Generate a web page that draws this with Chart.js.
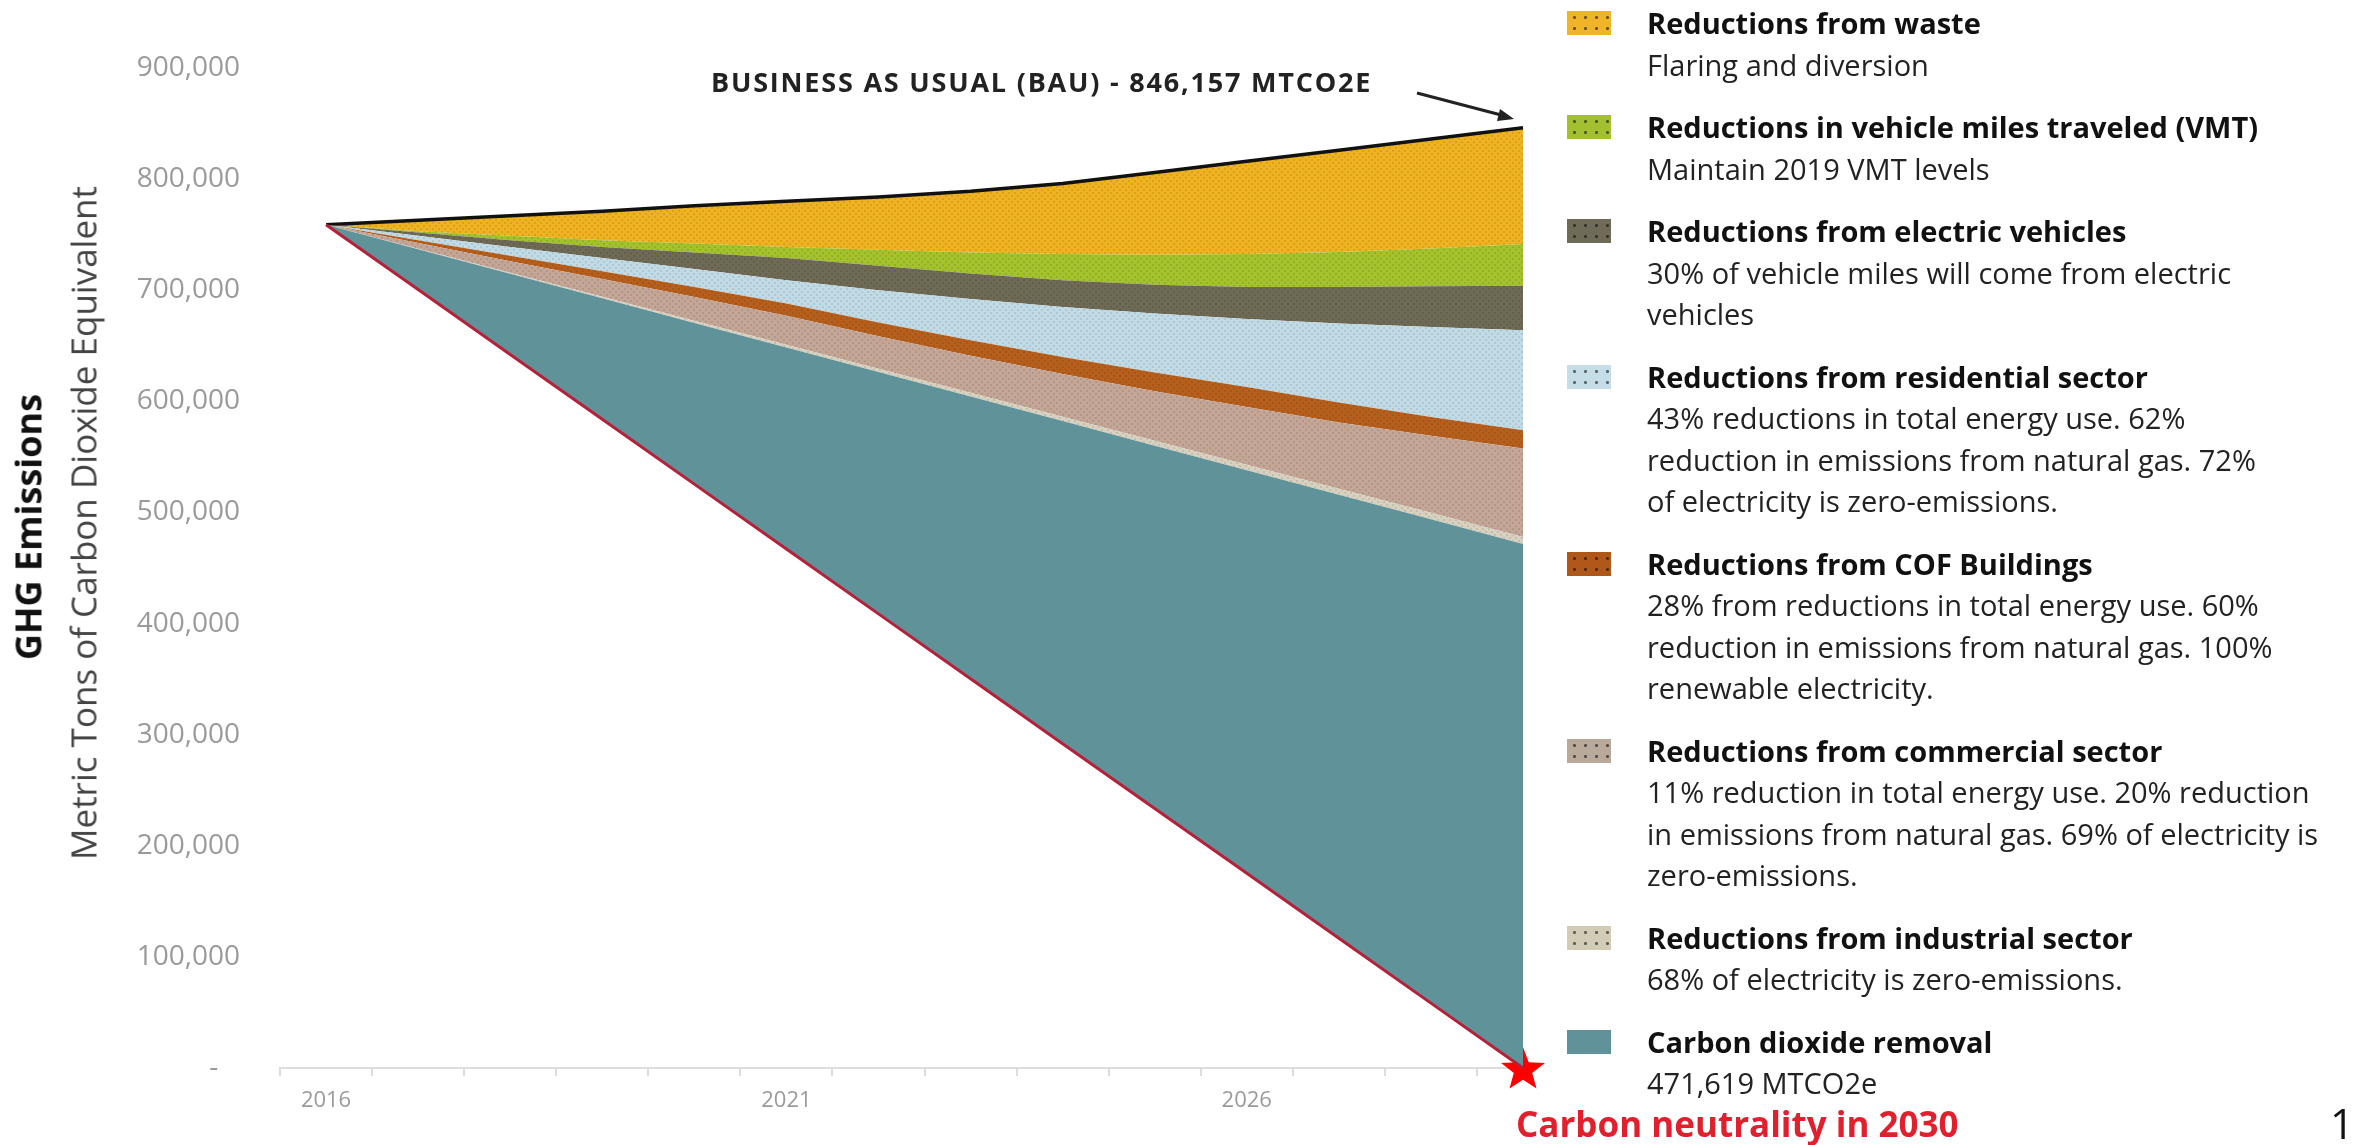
<!DOCTYPE html>
<html>
<head>
<meta charset="utf-8">
<script src="https://cdn.jsdelivr.net/npm/chart.js@4.4.1/dist/chart.umd.min.js"></script>
<style>
  html, body { margin: 0; padding: 0; background: #fff; }
  body { width: 2363px; height: 1145px; position: relative; overflow: hidden; font-family: "Open Sans", sans-serif; }
  #chart { position: absolute; left: 0; top: 0; }
  .rot { position: absolute; white-space: nowrap; transform: translate(-50%, -50%) rotate(-90deg); }
  .note { position: absolute; white-space: nowrap; }
  #legend { position: absolute; left: 1567px; top: 2px; display: flex; flex-direction: column; gap: 21px; }
  .item { position: relative; padding-left: 80px; font-size: 29px; line-height: 41.5px; color: #222; white-space: nowrap; }
  .item b { color: #111; }
  .sw { position: absolute; left: 0; top: 9px; width: 44px; height: 24px;
        background-image: radial-gradient(circle, rgba(0,0,0,0.55) 1.2px, transparent 1.8px);
        background-size: 11px 11px; background-position: 2px 1px; }
  svg { position: absolute; left: 0; top: 0; }
</style>
</head>
<body>
<canvas id="chart" width="2363" height="1145"></canvas>

<div class="rot" style="left:28px; top:527px; font-size:36px; font-weight:700; color:#111;">GHG Emissions</div>
<div class="rot" style="left:83px; top:523px; font-size:35px; color:#444;">Metric Tons of Carbon Dioxide Equivalent</div>

<div class="note" style="left:711px; top:63px; font-size:27px; letter-spacing:1.8px; font-weight:700; color:#222;">BUSINESS AS USUAL (BAU) - 846,157 MTCO2E</div>
<svg width="2363" height="1145">
  <line x1="1417" y1="93" x2="1505" y2="116" stroke="#222" stroke-width="3"/>
  <polygon points="1514,119 1500,109 1497,121" fill="#222"/>
</svg>
<div class="note" style="left:1516px; top:1100px; font-size:35px; font-weight:700; color:#e0202c;">Carbon neutrality in 2030</div>
<div class="note" style="left:2330px; top:1094px; font-size:42px; color:#111;">1</div>

<div id="legend"></div>

<script>
// years on the x axis and the labelled ones
const years = [2016, 2017, 2018, 2019, 2020, 2021, 2022, 2023, 2024, 2025, 2026, 2027, 2028, 2029];
const tickYears = [2016, 2021, 2026];

// red line: remaining net emissions (stack base, not filled)
const netEmissions = [759000, 700600, 642200, 583800, 525500, 467100, 408700, 350300, 291900, 233500, 175200, 116800, 58400, 0];
// wedges stacked on top, bottom to top
const carbonRemoval = [0, 36300, 72600, 108900, 145100, 181400, 217700, 254000, 290300, 326600, 362800, 399100, 435400, 471619];
const industrial = [0, 500, 1000, 1500, 2000, 2500, 3000, 3500, 4000, 4500, 5000, 5500, 6000, 6381];
const commercial = [0, 5100, 10200, 15800, 21400, 26000, 29100, 33200, 38300, 44400, 52000, 59600, 69200, 79500];
const cofBuildings = [0, 2500, 5000, 7000, 9000, 11000, 12500, 14000, 15500, 17000, 18000, 18000, 17000, 16500];
const residential = [0, 4000, 8000, 12000, 16000, 21000, 29000, 37000, 45000, 53000, 61000, 71000, 81000, 90000];
const electricVehicles = [0, 3000, 6000, 10000, 15000, 20000, 22000, 23000, 24000, 26000, 29000, 33000, 36500, 40000];
const vehicleMiles = [0, 1000, 4000, 6000, 8000, 10000, 14500, 19000, 23500, 27000, 29500, 31500, 34000, 37500];
const waste = [0, 10000, 18000, 26000, 34000, 41000, 47500, 55000, 63500, 74000, 83500, 91500, 98500, 104657];

const neutralYear = [2029];
const neutralValue = [0];

// legend texts, top to bottom
const seriesNames = [
  'Reductions from waste',
  'Reductions in vehicle miles traveled (VMT)',
  'Reductions from electric vehicles',
  'Reductions from residential sector',
  'Reductions from COF Buildings',
  'Reductions from commercial sector',
  'Reductions from industrial sector',
  'Carbon dioxide removal'
];
const seriesNotes = [
  ['Flaring and diversion'],
  ['Maintain 2019 VMT levels'],
  ['30% of vehicle miles will come from electric', 'vehicles'],
  ['43% reductions in total energy use. 62%', 'reduction in emissions from natural gas. 72%', 'of electricity is zero-emissions.'],
  ['28% from reductions in total energy use. 60%', 'reduction in emissions from natural gas. 100%', 'renewable electricity.'],
  ['11% reduction in total energy use. 20% reduction', 'in emissions from natural gas. 69% of electricity is', 'zero-emissions.'],
  ['68% of electricity is zero-emissions.'],
  ['471,619 MTCO2e']
];
const seriesColors = ['#efb321', '#a3c22c', '#6e6a56', '#c0dbe6', '#b65f1c', '#c4a697', '#d8d1bf', '#5f9399'];
const swatchColors = ['#f0b429', '#a3c030', '#6f6b58', '#c5dde6', '#b0581a', '#b9a99b', '#d2cbb6', '#5f9399'];

function dotted(color) {
  const c = document.createElement('canvas');
  c.width = 6; c.height = 6;
  const g = c.getContext('2d');
  g.fillStyle = color;
  g.fillRect(0, 0, 6, 6);
  g.fillStyle = 'rgba(0,0,0,0.09)';
  g.fillRect(0, 0, 2, 2);
  g.fillRect(3, 3, 2, 2);
  return g.createPattern(c, 'repeat');
}

function starImage(size, color) {
  const c = document.createElement('canvas');
  c.width = size; c.height = size;
  const g = c.getContext('2d');
  const r = size / 2, r2 = r * 0.42;
  g.beginPath();
  for (let i = 0; i < 10; i++) {
    const a = -Math.PI / 2 + i * Math.PI / 5;
    const rr = i % 2 ? r2 : r;
    g.lineTo(r + rr * Math.cos(a), r + rr * Math.sin(a) + 2);
  }
  g.closePath();
  g.fillStyle = color;
  g.fill();
  return c;
}

const pts = arr => arr.map((v, i) => ({ x: years[i], y: v }));

// stacked wedges, bottom to top (legend is listed top to bottom)
const wedges = [carbonRemoval, industrial, commercial, cofBuildings, residential, electricVehicles, vehicleMiles, waste];

const datasets = [{
  label: 'Net emissions',
  data: pts(netEmissions),
  borderColor: '#b3213a',
  borderWidth: 3,
  fill: false,
  pointRadius: 0,
  clip: false,
  stack: 'main'
}];

wedges.forEach((arr, k) => {
  const li = seriesNames.length - 1 - k;
  const top = k === wedges.length - 1;
  datasets.push({
    label: seriesNames[li],
    data: pts(arr),
    backgroundColor: li === 7 ? seriesColors[li] : dotted(seriesColors[li]),
    borderColor: top ? '#111' : 'rgba(0,0,0,0)',
    borderWidth: top ? 3.5 : 0,
    fill: '-1',
    pointRadius: 0,
    clip: false,
    stack: 'main'
  });
});

datasets.push({
  label: 'Carbon neutrality',
  data: neutralYear.map((y, i) => ({ x: y, y: neutralValue[i] })),
  showLine: false,
  pointStyle: starImage(46, '#ff0000'),
  pointRadius: 23,
  clip: false,
  stack: 'marker'
});

const xTicks = [];
for (let y = years[0] - 0.5; y < years[years.length - 1]; y += 1) xTicks.push(y);
tickYears.forEach(y => xTicks.push(y));
xTicks.sort((a, b) => a - b);

const chart = new Chart(document.getElementById('chart').getContext('2d'), {
  type: 'line',
  data: { datasets: datasets },
  options: {
    responsive: false,
    animation: false,
    devicePixelRatio: 1,
    layout: { padding: { top: 68, right: 840, bottom: 0, left: 0 } },
    plugins: { legend: { display: false }, tooltip: { enabled: false } },
    scales: {
      x: {
        type: 'linear',
        min: years[0] - 0.5,
        max: years[years.length - 1],
        afterBuildTicks: s => { s.ticks = xTicks.map(v => ({ value: v })); },
        afterFit: s => { s.height = 77; },
        border: { color: '#dcdcdc', width: 2 },
        grid: {
          drawOnChartArea: false,
          tickLength: 8,
          lineWidth: 2,
          color: c => (c.tick && tickYears.includes(c.tick.value)) ? 'rgba(0,0,0,0)' : '#dcdcdc'
        },
        ticks: {
          autoSkip: false,
          maxRotation: 0,
          padding: 12,
          color: '#9a9a9a',
          font: { family: 'Open Sans', size: 22 },
          callback: v => tickYears.includes(v) ? String(v) : ''
        }
      },
      y: {
        stacked: true,
        min: 0,
        max: 900000,
        afterFit: s => { s.width = 280; },
        border: { display: false },
        grid: { display: false, drawTicks: false },
        ticks: {
          stepSize: 100000,
          padding: 40,
          color: '#9a9a9a',
          font: { family: 'Open Sans', size: 28 },
          callback: v => v === 0 ? '-   ' : v.toLocaleString('en-US')
        }
      }
    }
  }
});

// legend on the right
const legend = document.getElementById('legend');
seriesNames.forEach((name, i) => {
  const d = document.createElement('div');
  d.className = 'item';
  const sw = document.createElement('span');
  sw.className = 'sw';
  sw.style.backgroundColor = swatchColors[i];
  if (i === 7) sw.style.backgroundImage = 'none';
  d.appendChild(sw);
  const t = document.createElement('b');
  t.textContent = name;
  d.appendChild(t);
  seriesNotes[i].forEach(line => {
    d.appendChild(document.createElement('br'));
    d.appendChild(document.createTextNode(line));
  });
  legend.appendChild(d);
});
</script>
</body>
</html>
